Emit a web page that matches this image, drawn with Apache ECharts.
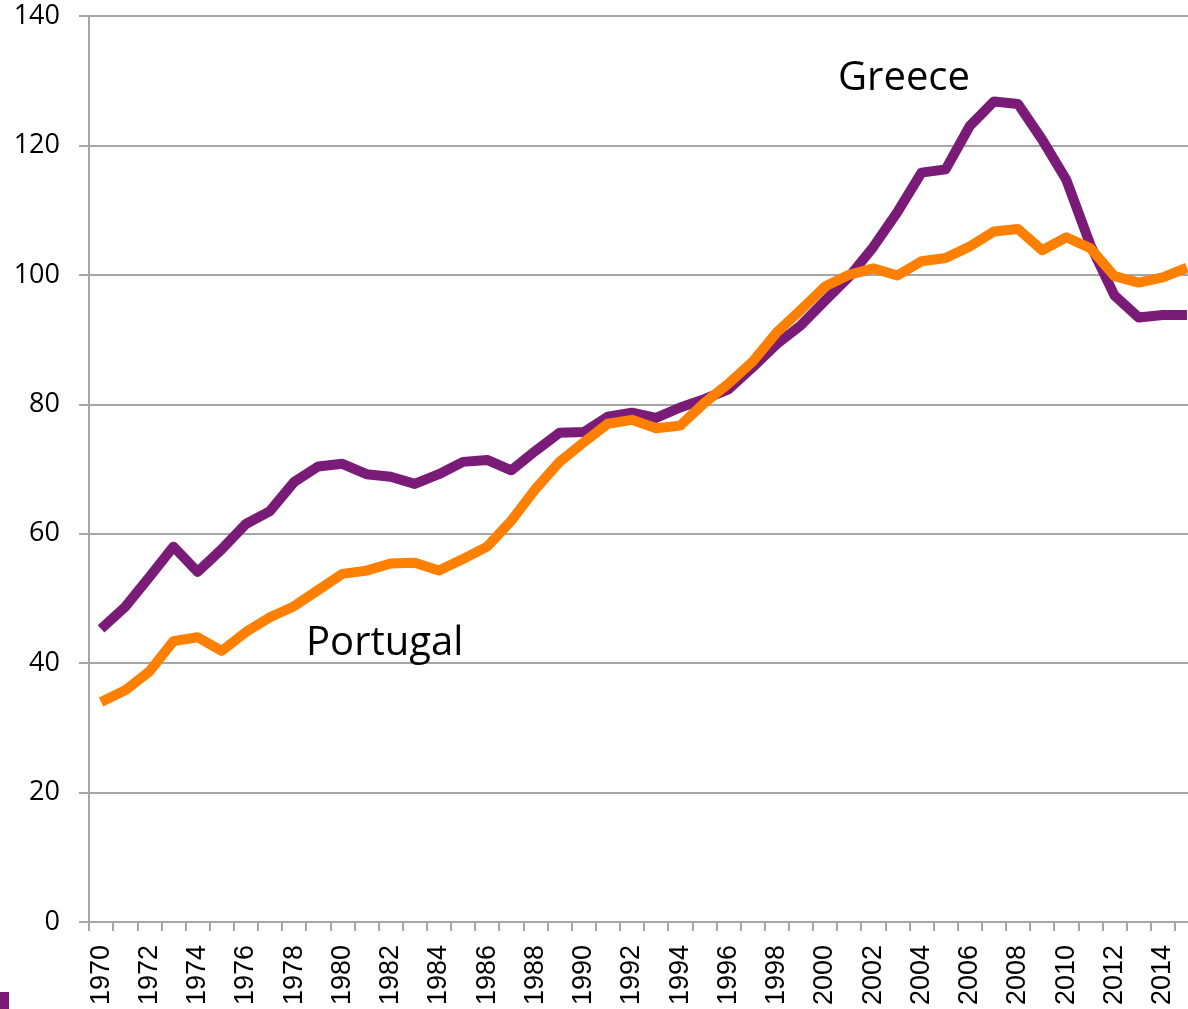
<!DOCTYPE html>
<html>
<head>
<meta charset="utf-8">
<script src="https://cdn.jsdelivr.net/npm/echarts@6/dist/echarts.min.js"></script>
<style>
  html, body { margin: 0; padding: 0; background: #fff; overflow: hidden; }
  /* the plot runs a little past the right edge of the picture */
  #main { width: 1199px; height: 1009px; }
</style>
</head>
<body>
<div id="main"></div>
<script>
// years on the x axis
var years = [];
for (var y = 1970; y <= 2015; y++) { years.push(String(y)); }

// values
var greece = [45.3, 48.7, 53.3, 58.0, 54.1, 57.6, 61.5, 63.5, 68.0, 70.4,
              70.8, 69.2, 68.8, 67.7, 69.2, 71.1, 71.4, 69.8, 72.8, 75.6,
              75.7, 78.1, 78.7, 77.9, 79.5, 80.8, 82.3, 85.7, 89.3, 92.2,
              96.0, 99.7, 104.3, 109.7, 115.8, 116.3, 123.0, 126.8, 126.4, 120.9,
              114.7, 104.6, 96.8, 93.4, 93.8, 93.8];
var portugal = [34.0, 35.8, 38.7, 43.4, 44.0, 41.9, 44.8, 47.1, 48.8, 51.3,
                53.8, 54.3, 55.4, 55.5, 54.3, 56.1, 58.0, 62.0, 66.9, 71.1,
                74.1, 77.0, 77.6, 76.3, 76.7, 80.2, 83.2, 86.6, 91.1, 94.6,
                98.2, 100.0, 101.0, 99.9, 102.1, 102.6, 104.4, 106.7, 107.1, 103.8,
                105.8, 104.1, 99.8, 98.8, 99.6, 101.1];

var yTicks = [0, 20, 40, 60, 80, 100, 120, 140];

var purple = '#7a1b77';
var orange = '#ff7f00';
var gridGray = '#a6a6a6';

var myChart = echarts.init(document.getElementById('main'));

var option = {
    animation: false,
    backgroundColor: '#fff',
    grid: {
        left: 89,
        top: 16,
        right: 0,
        bottom: 87,
        containLabel: false
    },
    xAxis: {
        type: 'category',
        data: years,
        boundaryGap: true,
        axisLine: { show: true, lineStyle: { color: gridGray, width: 2 } },
        axisTick: {
            show: true,
            interval: 0,
            length: 9,
            lineStyle: { color: gridGray, width: 2 }
        },
        axisLabel: {
            interval: 1,
            rotate: 90,
            margin: 23,
            color: '#000',
            fontFamily: 'Liberation Sans',
            fontSize: 27
        },
        splitLine: { show: false }
    },
    yAxis: {
        type: 'value',
        min: yTicks[0],
        max: yTicks[yTicks.length - 1],
        interval: 20,
        axisLine: { show: true, lineStyle: { color: gridGray, width: 2 } },
        axisTick: {
            show: true,
            length: 10,
            lineStyle: { color: gridGray, width: 2 }
        },
        axisLabel: {
            margin: 29,
            color: '#000',
            fontFamily: 'Open Sans',
            fontSize: 27
        },
        splitLine: { show: true, lineStyle: { color: gridGray, width: 2 } }
    },
    series: [
        {
            name: 'Greece',
            type: 'line',
            data: greece,
            symbol: 'none',
            lineStyle: { color: purple, width: 10, join: 'round' },
            z: 3
        },
        {
            name: 'Portugal',
            type: 'line',
            data: portugal,
            symbol: 'none',
            lineStyle: { color: orange, width: 10, join: 'round' },
            z: 4
        }
    ],
    graphic: [
        {
            type: 'text',
            left: 838,
            top: 59,
            style: { text: 'Greece', font: '40px "Open Sans"', fill: '#000' },
            z: 10
        },
        {
            type: 'text',
            left: 306,
            top: 624,
            style: { text: 'Portugal', font: '40px "Open Sans"', fill: '#000' },
            z: 10
        },
        {
            type: 'rect',
            left: 0,
            top: 992,
            shape: { width: 9, height: 17 },
            style: { fill: purple }
        }
    ]
};

myChart.setOption(option);
</script>
</body>
</html>
